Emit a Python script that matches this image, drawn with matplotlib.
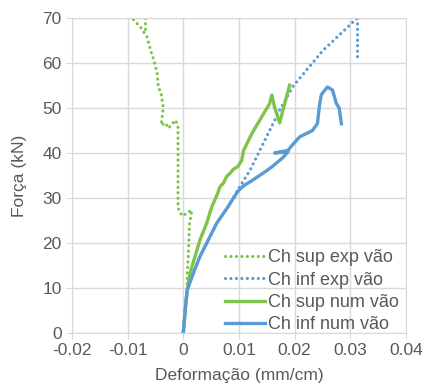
import numpy as np
import matplotlib
matplotlib.use('Agg')
import matplotlib.pyplot as plt

plt.rcParams['font.family'] = ['Liberation Sans', 'DejaVu Sans']

# Ch sup exp vao (green dotted)
sup_exp_x = [0.0, 0.0003, 0.0007, 0.0007, 0.0009, 0.001, 0.0011, 0.0014, 0.0015,
             0.0005, -0.0002, -0.0008, -0.00095, -0.00095, -0.00095, -0.00095,
             -0.0014, -0.0027, -0.0032, -0.004, -0.0038, -0.0036, -0.0038, -0.004,
             -0.0045, -0.0047, -0.0053, -0.0059, -0.0065, -0.0077, -0.0092,
             -0.0096, -0.0068, -0.0068]
sup_exp_y = [0, 5, 10, 13.3, 17, 20.7, 24.4, 26, 27.3,
             26.5, 26, 27.3, 28, 35, 40, 46,
             47.3, 45.5, 46.7, 46.2, 48, 50.2, 51.8, 53.3,
             54.7, 57.8, 60.7, 62.9, 65.8, 68, 70,
             71, 71, 67]

# Ch inf exp vao (blue dotted)
inf_exp_x = [0.0, 0.0004, 0.0007, 0.0018, 0.003, 0.0045, 0.006, 0.008, 0.0098,
             0.012, 0.0155, 0.0175, 0.0198, 0.025, 0.0312, 0.0313, 0.0313]
inf_exp_y = [0, 5.9, 9.5, 13.3, 17, 20.7, 24.4, 28, 31.8,
             36.2, 45, 50, 55, 62.7, 70, 70.5, 61]

# Ch sup num vao (green solid)
sup_num_x = [0.0, 0.0004, 0.0007, 0.0012, 0.0021, 0.003, 0.0042, 0.0051, 0.006,
             0.0066, 0.0072, 0.0078, 0.0084, 0.009, 0.0098, 0.0105, 0.0108, 0.0123,
             0.0143, 0.0155, 0.0159, 0.0164, 0.0173, 0.0191]
sup_num_y = [0, 6, 9.5, 13.3, 17, 20.7, 24.4, 28, 30.5,
             32.5, 33.3, 34.8, 35.5, 36.4, 37, 38.4, 40.5, 44.3,
             48.5, 51, 52.9, 50.2, 46.7, 55.1]

# Ch inf num vao (blue solid)
inf_num_x = [0.0, 0.0004, 0.0007, 0.0018, 0.003, 0.0045, 0.006, 0.008, 0.0098,
             0.0108, 0.012, 0.0143, 0.016, 0.0179, 0.0188, 0.0164, 0.0188, 0.0196,
             0.0209, 0.0232, 0.0241, 0.0245, 0.0248, 0.0259, 0.0268, 0.0275, 0.028,
             0.0284]
inf_num_y = [0, 5.9, 9.5, 13.3, 17, 20.7, 24.4, 28, 31.5,
             32.7, 33.6, 35.5, 37, 39, 40.3, 40.0, 40.6, 41.8,
             43.6, 45, 46.6, 51, 53, 54.7, 54, 51, 50,
             46.5]

green = '#7EC34A'
blue = '#5B9BD5'
gray = '#D9D9D9'
txt = '#595959'

fig = plt.figure(figsize=(4.26, 3.87), dpi=100)
ax = fig.add_axes([0.169, 0.140, 0.784, 0.813])

dots = (0, (0.01, 1.7))
ax.plot(sup_exp_x, sup_exp_y, color=green, lw=2.3, linestyle=dots,
        dash_capstyle='round', label='Ch sup exp vão')
ax.plot(inf_exp_x, inf_exp_y, color=blue, lw=2.3, linestyle=dots,
        dash_capstyle='round', label='Ch inf exp vão')
ax.plot(sup_num_x, sup_num_y, color=green, lw=2.4, label='Ch sup num vão')
ax.plot(inf_num_x, inf_num_y, color=blue, lw=2.4, label='Ch inf num vão')

ax.set_xlim(-0.02, 0.04)
ax.set_ylim(0, 70)
ax.set_xticks(np.arange(-0.02, 0.041, 0.01))
ax.set_xticklabels(['-0.02', '-0.01', '0', '0.01', '0.02', '0.03', '0.04'])
ax.set_yticks(range(0, 71, 10))
ax.grid(True, color=gray, lw=1)
ax.set_axisbelow(True)
for s in ax.spines.values():
    s.set_color(gray)
ax.tick_params(colors=gray, labelcolor=txt, labelsize=12.5, length=4)

ax.set_xlabel('Deformação (mm/cm)', fontsize=12.5, color=txt, labelpad=7)
ax.set_ylabel('Força (kN)', fontsize=12.5, color=txt, labelpad=11)

ax.legend(loc='lower right', frameon=False, fontsize=13, handlelength=2.2,
          handletextpad=0.15, labelspacing=0.3, borderaxespad=0.0,
          bbox_to_anchor=(1.0, -0.025), labelcolor=txt)

fig.savefig('out.png', dpi=100)
